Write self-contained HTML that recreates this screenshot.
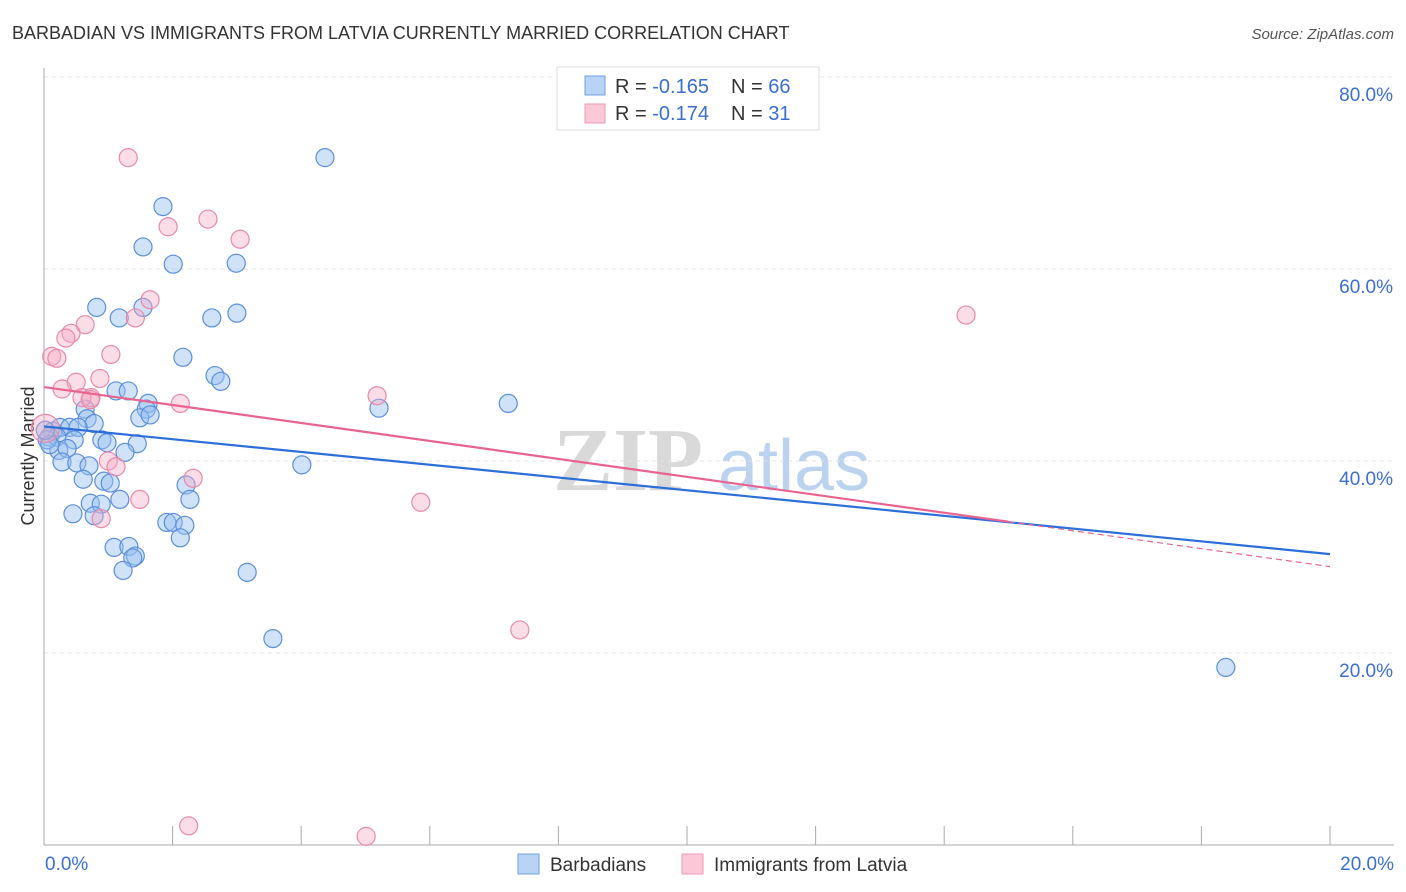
<!DOCTYPE html>
<html><head><meta charset="utf-8">
<style>
body{margin:0;background:#fff;font-family:"Liberation Sans",sans-serif;}
svg{display:block}
</style></head>
<body>
<svg id="chart" width="1406" height="892">
<text x="12" y="39" font-size="18" fill="#333">BARBADIAN VS IMMIGRANTS FROM LATVIA CURRENTLY MARRIED CORRELATION CHART</text>
<text x="1394" y="39" font-size="15" fill="#555" font-style="italic" text-anchor="end">Source: ZipAtlas.com</text>
<text x="34" y="456" font-size="18" fill="#333" text-anchor="middle" transform="rotate(-90 34 456)">Currently Married</text>
<g>
<text x="553" y="490" font-size="90" fill="#d9d9d9" font-family="Liberation Serif,serif" font-weight="bold">ZIP</text>
<text x="718" y="490" font-size="72" fill="#bcd3f0">atlas</text>
</g>
<g id="grid"></g>
<g id="axes"></g>
<g id="pts"></g>
<g id="lines"></g>
<g>
<rect x="557" y="67" width="262" height="63" fill="#fff" stroke="#ddd"/>
<rect x="585" y="76" width="20" height="19" fill="#b8d3f5" stroke="#6f9fe0"/>
<rect x="585" y="104" width="20" height="19" fill="#fac8d6" stroke="#ec9ab4"/>
<text x="615" y="93" font-size="20" fill="#333">R = <tspan fill="#3a6fd0">-0.165</tspan><tspan x="731">N = </tspan><tspan fill="#3a6fd0">66</tspan></text>
<text x="615" y="120" font-size="20" fill="#333">R = <tspan fill="#3a6fd0"> -0.174</tspan><tspan x="731">N = </tspan><tspan fill="#3a6fd0"> 31</tspan></text>
</g>
<g>
<rect x="518" y="854" width="21" height="20" fill="#b8d3f5" stroke="#6f9fe0"/>
<text x="550" y="871" font-size="19" fill="#333">Barbadians</text>
<rect x="682" y="854" width="21" height="20" fill="#fac8d6" stroke="#ec9ab4"/>
<text x="714" y="871" font-size="19" fill="#333">Immigrants from Latvia</text>
</g>
</svg>
<script>
const blueX=[4.37,1.85,1.54,2.01,2.99,0.82,1.54,1.17,2.61,3.00,2.16,2.66,2.75,1.12,1.31,1.62,1.59,1.49,1.65,0.64,0.67,0.78,0.14,0.25,0.40,0.53,0.08,0.20,0.47,0.90,0.98,1.45,1.26,0.23,0.36,0.28,0.51,0.70,0.61,0.93,1.03,1.18,0.72,0.89,2.21,2.27,0.45,0.78,1.91,2.01,2.19,2.12,1.09,1.32,1.42,1.38,1.23,3.16,4.01,5.21,7.22,3.56,18.38,0.05,0.09,0.02];
const blueY=[71.6,66.5,62.3,60.5,60.6,56.0,56.0,54.9,54.9,55.4,50.8,48.9,48.3,47.3,47.3,46.0,45.4,44.5,44.8,45.4,44.4,43.9,43.1,43.5,43.5,43.5,42.5,42.5,42.2,42.2,41.9,41.8,40.9,41.1,41.3,39.9,39.8,39.5,38.1,37.9,37.7,36.0,35.6,35.5,37.5,36.0,34.5,34.3,33.6,33.6,33.3,32.0,31.0,31.1,30.1,29.9,28.6,28.4,39.6,45.5,46.0,21.5,18.5,42.2,41.7,43.2];
const pinkX=[1.31,1.93,2.55,3.05,1.65,1.42,0.64,0.42,0.34,0.12,0.20,1.04,0.87,0.50,0.28,0.73,0.59,2.12,5.18,1.00,1.12,2.32,1.49,0.89,5.86,7.40,14.34,2.25,5.01,0.02,0.72];
const pinkY=[71.6,64.4,65.2,63.1,56.8,54.9,54.2,53.3,52.8,50.9,50.7,51.1,48.6,48.2,47.5,46.6,46.6,46.0,46.8,40.0,39.4,38.2,36.0,34.0,35.7,22.4,55.2,2.0,0.9,43.4,46.4];
const yTicks=[20,40,60,80];
const yTickLabels=["20.0%","40.0%","60.0%","80.0%"];
const xTickLabels=["0.0%","20.0%"];
const blueTrend=[43.6,30.3];
const pinkTrend=[47.7,29.0];
const pinkSolidEnd=15.0;

const NS="http://www.w3.org/2000/svg";
const X0=44,X1=1330,Y0=845,Y80=77;
const sx=v=>X0+(X1-X0)*v/20;
const sy=v=>Y0-(Y0-Y80)*v/80;
function mk(tag,attrs,parent){const e=document.createElementNS(NS,tag);for(const k in attrs)e.setAttribute(k,attrs[k]);parent.appendChild(e);return e;}
const grid=document.getElementById('grid'),axes=document.getElementById('axes'),pts=document.getElementById('pts'),lines=document.getElementById('lines');
yTicks.forEach((t,i)=>{
  const g=mk('line',{x1:X0,x2:1394,y1:sy(t),y2:sy(t),stroke:'#e2e2e2','stroke-dasharray':'4,4'},grid);
  
  
  const tx=mk('text',{x:1393,y:sy(t)+24,'font-size':19,fill:'#3a6fd0','text-anchor':'end'},axes);
  tx.textContent=yTickLabels[i];
  
  
});
const xa=mk('line',{x1:X0,x2:1394,y1:Y0,y2:Y0,stroke:'#aaa'},axes);


const ya=mk('line',{x1:X0,x2:X0,y1:68,y2:Y0,stroke:'#aaa'},axes);


for(let i=1;i<=10;i++){
  const tk=mk('line',{x1:sx(i*2),x2:sx(i*2),y1:Y0-19,y2:Y0,stroke:'#aaa'},axes);
  
  
}
[[0,'start',45],[20,'end',1394]].forEach((d,i)=>{
  const t=mk('text',{x:d[2],y:870,'font-size':19,fill:'#3a6fd0','text-anchor':d[1]},axes);
  t.textContent=xTickLabels[i];
  
  
});
blueX.forEach((x,i)=>{
  const c=mk('circle',{cx:sx(x),cy:sy(blueY[i]),r:9,fill:'rgba(150,190,240,0.45)',stroke:'#5b8fdc','stroke-width':1.2},pts);
  
  
});
pinkX.forEach((x,i)=>{
  const c=mk('circle',{cx:sx(x),cy:sy(pinkY[i]),r:(i===29?14:9),fill:'rgba(245,170,195,0.4)',stroke:'#e88aa8','stroke-width':1.2},pts);
  
  
});
const bl=mk('line',{x1:sx(0),y1:sy(blueTrend[0]),x2:sx(20),y2:sy(blueTrend[1]),stroke:'#2d6fd8','stroke-width':2.2},lines);


const pv=x=>pinkTrend[0]+(pinkTrend[1]-pinkTrend[0])*x/20;
const pl=mk('line',{x1:sx(0),y1:sy(pv(0)),x2:sx(pinkSolidEnd),y2:sy(pv(pinkSolidEnd)),stroke:'#e8648e','stroke-width':2.2},lines);


const pd=mk('line',{x1:sx(pinkSolidEnd),y1:sy(pv(pinkSolidEnd)),x2:sx(20),y2:sy(pv(20)),stroke:'#e8648e','stroke-width':1.2,'stroke-dasharray':'6,4'},lines);


</script>
</body></html>
